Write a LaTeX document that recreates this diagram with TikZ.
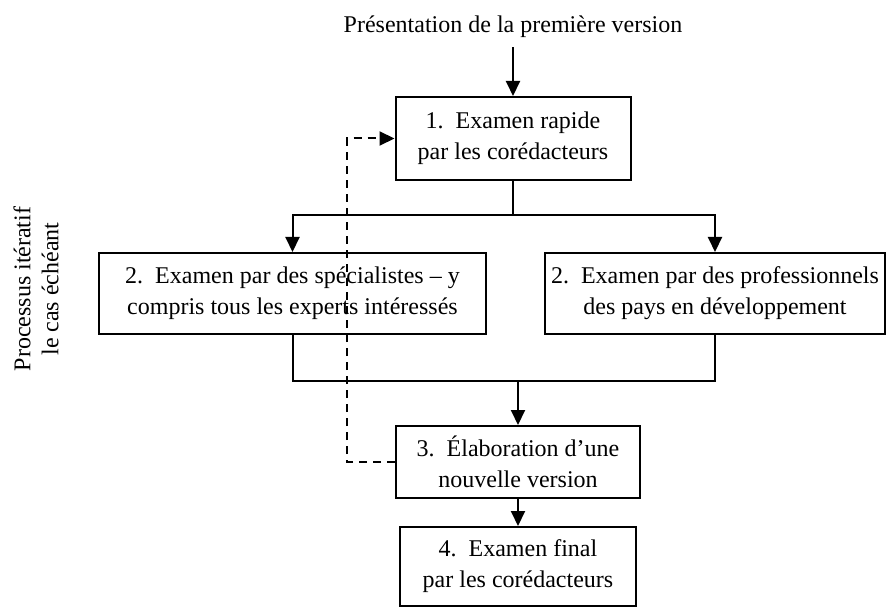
\documentclass[tikz,border=0pt]{standalone}
\usepackage{fontspec}
\setmainfont{Liberation Serif}
\usetikzlibrary{arrows.meta,positioning}

\tikzset{
  stage/.style={draw, line width=2pt, align=center, inner sep=0pt,
    font=\fontsize{24}{31}\selectfont},
  link/.style={line width=2pt},
  arr/.style={link, -{Triangle[length=15pt,width=14pt]}},
}

\begin{document}
\begin{tikzpicture}[x=1pt, y=-1pt]
  \useasboundingbox (0,0) rectangle (888,612);

  \node[font=\fontsize{24}{30}\selectfont] (start) at (513,27) {Présentation de la première version};

  \node[stage, minimum width=235pt, minimum height=83pt] (box1) at (513,138.5)
    {1.\enspace Examen rapide\\par les corédacteurs};
  \node[stage, minimum width=387pt, minimum height=81pt] (box2a) at (292.5,293.5)
    {2.\enspace Examen par des spécialistes -- y\\compris tous les experts intéressés};
  \node[stage, minimum width=340pt, minimum height=81pt] (box2b) at (715,293.5)
    {2.\enspace Examen par des professionnels\\des pays en développement};
  \node[stage, minimum width=244pt, minimum height=72pt] (box3) at (518,462)
    {3.\enspace Élaboration d’une\\nouvelle version};
  \node[stage, minimum width=236pt, minimum height=79pt] (box4) at (518,566.5)
    {4.\enspace Examen final\\par les corédacteurs};

  \node[rotate=90, align=center, font=\fontsize{24}{28}\selectfont] (note) at (36,289)
    {Processus itératif\\le cas échéant};

  \coordinate (split) at (513,215);
  \coordinate (join) at (518,381);
  \coordinate (loop) at (347,462);

  % main flow
  \draw[arr, shorten <=6pt] (start.south) -- (box1.north);
  \draw[link] (box1.south) -- (split);
  \draw[arr] (split) -| (box2a.north);
  \draw[arr] (split) -| (box2b.north);
  \draw[link] (box2a.south) |- (join);
  \draw[link] (box2b.south) |- (join);
  \draw[arr] (join) -- (box3.north);
  \draw[arr] (box3) -- (box4);

  % iteration
  \draw[arr, dash pattern=on 8pt off 6pt] (box3.west) -- (loop) |- (box1.west);
\end{tikzpicture}
\end{document}
